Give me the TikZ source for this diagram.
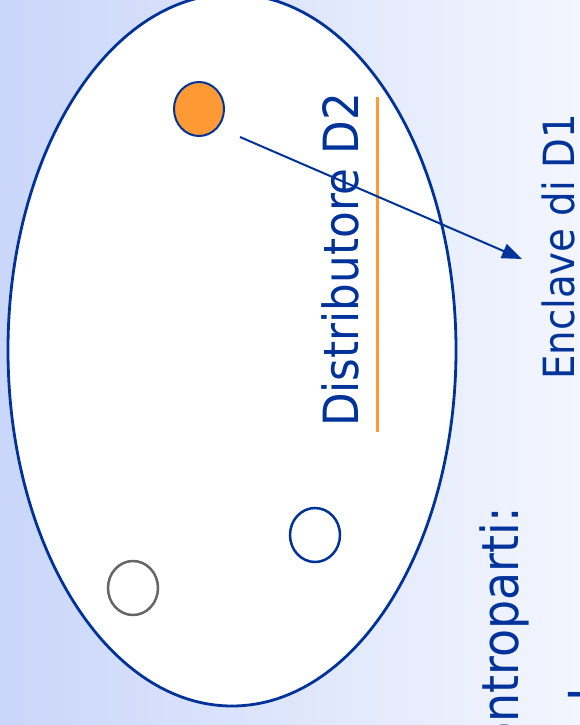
\documentclass[tikz,border=0pt]{standalone}
\usepackage{fontspec}
\setmainfont{DejaVu Sans Condensed}
\usetikzlibrary{arrows.meta,positioning,shapes.geometric}
\definecolor{ink}{HTML}{003399}
\definecolor{orange}{HTML}{FF9933}
\definecolor{gray}{HTML}{666666}
\definecolor{bgleft}{HTML}{CAD6FA}
\definecolor{bgright}{HTML}{F3F6FE}
\tikzset{
  region/.style={ellipse, draw=ink, line width=2.8pt, fill=white, inner sep=0pt, minimum width=448pt, minimum height=712pt},
  party/.style={ellipse, draw=ink, line width=2.5pt, fill=white, inner sep=0pt, minimum width=50pt, minimum height=54pt},
  dealer/.style={party, fill=orange, line width=2pt},
  idle/.style={party, draw=gray},
  vlabel/.style={rotate=90, anchor=base west, text=ink, inner sep=0pt},
  arrow/.style={-{Triangle[length=20pt,width=15pt]}, line width=2pt, draw=ink}
}

\begin{document}
\begin{tikzpicture}[x=1pt, y=-1pt]
\useasboundingbox (0,0) rectangle (580,725);
\clip (0,0) rectangle (580,725);
\shade[left color=bgleft, right color=bgright] (0,0) rectangle (580,725);
\node[region] (dom) at (232,350) {};
\node[dealer] (d2) at (199,109) {};
\node[party] (p1) at (315,535) {};
\node[idle] (p2) at (133,588) {};
\node[vlabel, font=\fontsize{48.5}{58}\selectfont] (dist) at (358,427) {Distributore D2};
\node[vlabel, font=\fontsize{43}{52}\selectfont] (encl) at (574,380) {Enclave di D1};
\node[vlabel, anchor=base east, font=\fontsize{51}{61}\selectfont] (contr) at (518,507) {ontroparti:};
\node[vlabel, anchor=base, font=\fontsize{51}{61}\selectfont] (next) at (605,695) {I};
\draw[orange, line width=3pt] (377,97) -- (377,432);
\coordinate (src) at (240,137);
\coordinate (dst) at (522,259);
\draw[arrow] (src) -- (dst);
\end{tikzpicture}
\end{document}
